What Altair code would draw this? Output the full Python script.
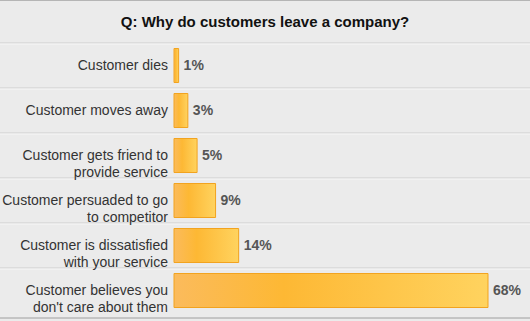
import altair as alt
import pandas as pd

title_text = ["Q: Why do customers leave a company?"]
reasons = [
    "Customer dies",
    "Customer moves away",
    "Customer gets friend to\nprovide service",
    "Customer persuaded to go\nto competitor",
    "Customer is dissatisfied\nwith your service",
    "Customer believes you\ndon't care about them",
]
percents = [1, 3, 5, 9, 14, 68]
pct_labels = [f"{p}%" for p in percents]

df = pd.DataFrame({"reason": reasons, "pct": percents, "label": pct_labels})
df_title = pd.DataFrame({"title": title_text})

FONT = "Liberation Sans"
yscale = alt.Scale(domain=reasons, paddingInner=0, paddingOuter=0)
xscale = alt.Scale(domain=[0, 68], range=[174, 488], zero=True, nice=False)

y_band = alt.Y("reason:N", sort=reasons, axis=None, scale=yscale)

base = alt.Chart(df)

sep_dark = base.mark_rule(color="#cdcdcd", strokeWidth=1).encode(
    y=alt.Y("reason:N", sort=reasons, axis=None, scale=yscale, bandPosition=0)
)
sep_light = base.mark_rule(color="#f7f7f7", strokeWidth=1, yOffset=1).encode(
    y=alt.Y("reason:N", sort=reasons, axis=None, scale=yscale, bandPosition=0)
)
top_border = base.mark_rule(color="#b5b5b5", strokeWidth=2).encode(
    y=alt.value(-43), x=alt.value(0), x2=alt.value(530)
)
bottom_border = base.mark_rule(color="#c4c4c4", strokeWidth=1).encode(
    y=alt.value(275), x=alt.value(0), x2=alt.value(530)
)

title_mark = alt.Chart(df_title).mark_text(
    align="center", baseline="middle",
    fontSize=15, font=FONT, fontWeight="bold", color="#111111",
).encode(
    x=alt.value(265),
    y=alt.value(-21),
    text="title:N",
)

gradient = alt.Gradient(
    gradient="linear",
    x1=0, x2=1, y1=0, y2=0,
    stops=[
        alt.GradientStop(color="#fbbb5c", offset=0),
        alt.GradientStop(color="#fdb834", offset=0.35),
        alt.GradientStop(color="#ffd35f", offset=1),
    ],
)

bars = base.mark_bar(
    size=34, fill=gradient, stroke="#f2a31f", strokeWidth=1
).encode(
    x=alt.X("pct:Q", scale=xscale, axis=None),
    y=y_band,
)

cat_text = base.transform_calculate(start="0").mark_text(
    align="right", baseline="middle", dx=-6, lineBreak="\n",
    fontSize=14, font=FONT, color="#333333", lineHeight=17,
).encode(
    x=alt.X("start:Q", scale=xscale, axis=None),
    y=y_band,
    text="reason:N",
)

pct_text = base.mark_text(
    align="left", baseline="middle", dx=5,
    fontSize=14, font=FONT, fontWeight="bold", color="#555555",
).encode(
    x=alt.X("pct:Q", scale=xscale, axis=None),
    y=y_band,
    text="label:N",
)

chart = alt.layer(
    sep_dark, sep_light, top_border, bottom_border, title_mark,
    bars, cat_text, pct_text
).properties(
    width=530,
    height=270,
    autosize=alt.AutoSizeParams(type="none"),
    padding={"left": 0, "right": 0, "top": 43, "bottom": 8},
    background="#ebebeb",
).configure_view(stroke=None)

chart.save("out.html", embed_options={"renderer": "svg", "actions": False})
